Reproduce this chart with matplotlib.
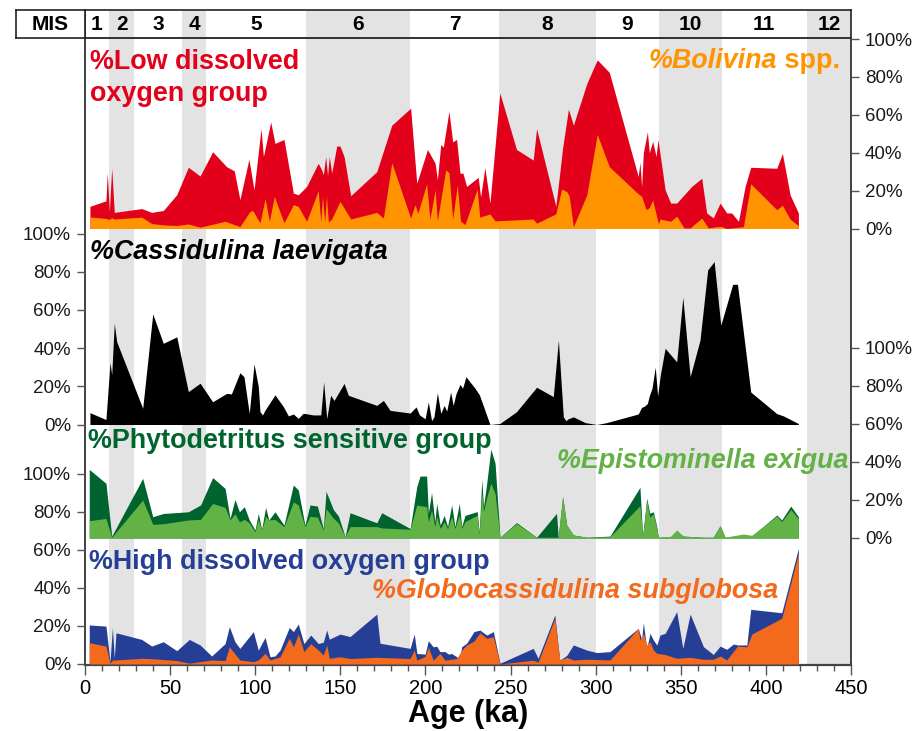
import matplotlib
matplotlib.use('Agg')
import matplotlib.pyplot as plt
from matplotlib import font_manager
from matplotlib.ticker import MultipleLocator, FuncFormatter

# ---------------- data ----------------
mis_bounds = [0, 14, 29, 57, 71, 130, 191, 243, 300, 337, 374, 424, 450]
mis_labels = ['1', '2', '3', '4', '5', '6', '7', '8', '9', '10', '11', '12']

age_low = [2.9, 12.3, 13.1, 14.3, 15.7, 17.2, 33.3, 39.2, 46, 53.9, 60.7, 67.6, 75, 83.2, 87.7, 91, 96.3, 99.3,
           103.4, 104.8, 109.1, 111.6, 116.9, 122.4, 125.3, 130.2, 137, 139, 140, 141.4, 142.5, 143.5, 144.9,
           147.9, 149.8, 152.2, 156.1, 171.4, 180.2, 191.3, 194.9, 201.2, 205.7, 207, 209, 210.5, 213.8, 216,
           218.3, 220.3, 222, 224.2, 231, 232.4, 234.9, 237.9, 243.7, 253.5, 263.3, 265.3, 276.6, 279, 280.5,
           284, 286.9, 294.8, 300.9, 308, 325, 326, 327, 328, 330.4, 331.5, 333.5, 335.5, 336.6, 340.8, 344.1,
           347.6, 356.4, 362.3, 365.2, 369.1, 373.1, 377, 379.9, 383.9, 387.8, 391.1, 406.4, 409.7, 414.2, 419.1]
low_do = [11.7, 14.6, 29.5, 9, 31.8, 8.5, 10.5, 8.5, 9.5, 17.8, 32.3, 27.7, 40.5, 32.6, 30.4, 15.2, 36.5, 20.4,
          52.7, 37.9, 56.2, 44.9, 47, 18.7, 17.8, 22.2, 34.4, 31, 28.3, 37.9, 28, 38, 29.2,
          43.5, 43.5, 37.9, 17.3, 30, 54.5, 63.5, 23.9, 41.7, 34.4, 25.7, 44.3, 43, 61.8, 45.7,
          47, 29.2, 29.2, 22.2, 27, 16.6, 32.1, 13.4, 71.5, 41.7, 36.1, 52.7, 11.7, 30, 42,
          63, 54.5, 76.5, 89, 82.4, 27.4, 35, 22, 40, 51, 40, 46, 38, 47, 20.4, 13.4,
          13.4, 22.2, 26.5, 8.2, 5.6, 13.4, 8.2, 8.2, 3.8, 22.2, 32.3, 31.8, 39.6, 17.8, 8.2]

age_boliv = [2.9, 12.3, 14.3, 15.7, 17.2, 33.3, 39.2, 46, 53.9, 60.7, 67.6, 82.3, 91, 96.9, 98.5, 102.8, 105.8,
             108.3, 111.2, 116.9, 122.4, 125.3, 130.2, 137, 138.5, 139.5, 140.8, 141.8, 143, 144.9, 149.8, 156.1,
             171.4, 175.3, 180.2, 191.3, 193.9, 195.5, 200.7, 202.6, 205.7, 207, 211.9, 213.8, 216, 218.7, 220.6,
             223.2, 230.4, 231.9, 237.9, 240.9, 263.3, 265.3, 276.6, 280, 283, 284.5, 286.9, 294.8, 300.9, 308,
             325, 327, 329.6, 331.5, 333.5, 336.9, 337.8, 344.1, 347.6, 351.9, 355.5, 362.3, 366.2, 371.2, 374,
             377, 386.8, 391.1, 406.4, 409.7, 414.2, 419.1]
bolivina = [6.1, 5.3, 4.8, 5.7, 5, 6, 2.6, 1.9, 1.6, 2.4, 0.7, 3.8, 1, 9, 9.5, 3, 15.9,
            3.8, 16.9, 3, 12.6, 11.7, 3.8, 20, 3.5, 17, 3.5, 17, 3.5, 5, 14.3, 5,
            8.5, 5.5, 34.7, 5.5, 12.6, 8, 23.6, 5, 20.4, 4, 30.9, 29.5, 5, 23, 4,
            2, 20.8, 6, 7.7, 4, 5, 2.8, 7.7, 20.8, 19.5, 17, 0.9, 17.8, 49.7, 32.6,
            18.3, 17, 10, 11, 15, 2.3, 5, 3.8, 6.5, 0.3, 0.3, 5.5, 0.3, 1, 1,
            0, 1, 23.6, 9.9, 12.2, 5, 1.5]

age_cass = [2.9, 12.3, 14.7, 15.7, 17.2, 18.6, 33.9, 39.8, 46, 53.9, 60.7, 67.6, 75, 83.2, 86, 91, 93.4, 96.5,
            99.3, 101.8, 102.8, 104.3, 105.8, 111.6, 116.5, 119.5, 122.4, 125.3, 128.2, 134.1, 138.5, 140.2, 142,
            144.3, 146.3, 152.2, 154.7, 171.4, 175.3, 179.2, 191, 194.5, 196.5, 199.8, 201.7, 203.6, 205, 207,
            209, 211, 212.5, 214.8, 216.3, 217.9, 220.3, 221.8, 223.8, 229.1, 231.7, 237.9, 243.7, 253.5, 265.3,
            275.1, 278.1, 281, 282.5, 283.9, 286.9, 293.8, 300.6, 306.5, 325, 327, 328.5, 330.4, 331.5, 333.1,
            335, 336.4, 338, 340.8, 347.6, 351.2, 355.5, 361.3, 365.8, 369.6, 373.5, 380.5, 383.3, 391.1, 406.4,
            410.3, 419.1]
cassidulina = [6.2, 2.6, 32.4, 26, 53, 43.4, 8.5, 57.9, 42.5, 45.9, 17.2, 21.6, 11.9, 16.3, 16, 27.1, 25, 5.8,
               31.7, 20, 6.7, 5, 7.6, 15.5, 9.4, 4.5, 5.5, 3.2, 5.9, 5, 5, 22.4, 3,
               15.3, 12.6, 21.5, 15.3, 10, 12.6, 7.4, 6, 9.2, 5, 3, 11.8, 2, 4, 16.6,
               5.8, 10, 7, 17, 10, 16, 21, 19, 25, 19, 15.5, 0, 0.5, 6.7, 19.5,
               14.6, 44.2, 4, 2, 3, 4, 1, 0, 1, 5.5, 9, 9.5, 11, 15, 19,
               30, 15, 26, 39.9, 32.8, 66.6, 25, 44.2, 80.9, 85.3, 52, 73.4, 73.4, 17, 5.7,
               4.5, 0.5]

age_phyto = [2.5, 12.3, 15.7, 33.9, 39.8, 46, 60.7, 67.9, 75, 82.3, 85.2, 88.1, 90.7, 93.6, 96.5, 99.9, 101.8,
             103.8, 106.1, 108, 111.6, 116.9, 122.4, 125.3, 129.2, 132.2, 136.5, 140, 141.6, 145.9, 148.9, 152.8,
             155.7, 171.4, 174.3, 191, 194.9, 196.8, 200.7, 201.7, 203.6, 205.5, 206.6, 208.7, 211, 213, 215.4,
             217.3, 219.9, 221.3, 223.2, 230.4, 231.6, 233.1, 234.1, 236, 238.4, 240.9, 243.8, 253.5, 265.3, 277,
             278, 280.6, 283, 286.9, 294.8, 308.4, 326, 326.8, 327.6, 330, 331.8, 333.9, 335.9, 336.8, 344, 347.6,
             351.5, 363.3, 369, 373.1, 376, 386.8, 391.7, 406.4, 409.3, 414.6, 419.1]
phyto = [36.1, 28.8, 1, 31.4, 11.2, 12.9, 13.8, 17.4, 31.8, 26.1, 10.3, 20.3, 13.8, 16.5, 9.5, 4.2, 12.9,
         4.6, 16.1, 9.5, 13.8, 6.8, 27.9, 25.3, 6.8, 17.4, 16.8, 5, 24.6, 15, 11.5, 0.7,
         13.3, 8, 13.3, 5, 27, 32.6, 32.6, 13, 23.9, 8.5, 18.2, 6.8, 11.9, 6, 17.5,
         6, 18.2, 6, 11.9, 13.9, 3, 30.9, 16.5, 28.8, 46.8, 39.3, 0.4, 8.1, 0.4, 13,
         0.4, 21.8, 6.8, 1.6, 0.4, 1, 26.7, 14, 1, 20.9, 13, 13.8, 6, 0.4, 0.7, 3,
         1, 0.4, 0.4, 6.5, 0.4, 1.6, 1, 12.1, 9.5, 16.8, 11.2]
epistominella = [9.1, 10.3, 0.4, 20, 7.2, 7.5, 9.5, 9.8, 18.2, 16.1, 9.5, 12.8, 8.5, 9.8, 7.9, 3.3, 9.8,
                 4.2, 11.4, 9.5, 9.8, 6, 19, 17.4, 6, 11.4, 11, 4.2, 15.5, 10.4, 7.9, 0.7,
                 6, 6, 5.3, 4.6, 17.4, 17, 16.5, 8.5, 14.7, 6, 11.4, 5, 8.6, 5, 11.4,
                 5, 12.3, 5, 8.6, 12, 2, 24, 14, 21.4, 28.8, 23.5, 0.4, 7.6, 0.4, 0.4,
                 0.4, 21.8, 6.8, 1.6, 0.4, 0.7, 17, 10, 1, 19.8, 11, 12.8, 5.3, 0.4, 0.9, 4.2,
                 1, 0.4, 0.4, 6.3, 0.4, 2.1, 1.4, 11.6, 8.6, 15, 10.2]

age_high = [2.5, 12.3, 14.7, 16.1, 17.2, 18.2, 33.3, 39.2, 46, 53.9, 61.3, 67.6, 74.4, 82.3, 84.8, 88.1, 91, 98.9,
            101.8, 105.8, 108.7, 111.6, 114.6, 120, 122.4, 125.3, 128.6, 132.6, 137.1, 140, 142, 143.5, 149.8,
            155.7, 171.4, 173.3, 191, 193.4, 195, 199.8, 201.7, 204.6, 206.6, 208.5, 211.5, 213.5, 215.4, 218.4,
            219.9, 221.3, 224.2, 228.5, 232, 236, 239.9, 243.8, 263.3, 266.2, 276, 278.9, 283, 286.9, 294.8,
            300.6, 308.4, 325, 327, 328, 330, 331.9, 333.9, 335.9, 337.8, 340.8, 347.6, 351.2, 355.5, 363.3,
            369.1, 373.1, 377, 380.9, 383.3, 388.8, 391.1, 409.3, 419.1]
high_do = [20.5, 19.9, 1.2, 19.2, 3, 16.4, 12.9, 9.4, 11.7, 7, 12.9, 10, 4.2, 10.7, 19.6, 11.7, 8.2, 17,
           7.3, 14, 3.8, 4.2, 7.3, 19.2, 17, 21, 10.7, 15.2, 10.7, 11.5, 17.8, 13, 15.7,
           14.4, 26.2, 10.9, 8.2, 15.7, 5.5, 5.2, 12.2, 9, 9.4, 6.5, 6.5, 5.2, 5.5, 3.8,
           2, 9.1, 10.9, 17, 17.8, 15.2, 17, 0.4, 8.2, 3, 25.7, 2, 4.5, 10, 7.3,
           6, 6.5, 18.7, 13, 21.7, 8, 16.1, 12.6, 10, 15.2, 16.1, 27.5, 8.2, 26.2, 9.1,
           5, 9.4, 7.7, 10.5, 10, 10, 28.7, 26.9, 60.7]

age_globo = [2.5, 12.3, 14.7, 16.1, 18.2, 33.3, 39.2, 53.9, 61.3, 74.4, 82.3, 84.8, 88.1, 91, 98.9, 101.8, 105.8,
             108.7, 114.6, 120, 122.4, 125.3, 128.6, 132.6, 137.1, 140, 142, 143.5, 149.8, 155.7, 171.4, 191,
             193.4, 195, 199.8, 201.7, 204.6, 208.5, 211.5, 218.4, 221.3, 224.2, 228.5, 232, 236, 239.9, 243.8,
             263.3, 266.2, 276, 278.9, 283, 286.9, 294.8, 308.4, 325, 326, 328, 330, 331.9, 333.9, 335.9, 340.8,
             347.6, 355.5, 363.3, 369.1, 373.1, 377, 383.3, 388.8, 391.7, 409.3, 419.1]
globocassidulina = [11.2, 9.4, 0.5, 2, 2.1, 3, 2.8, 1.8, 0.4, 2.1, 1.8, 9, 5.3, 2.1, 1.2, 2.1, 5.6,
                    2.1, 3.8, 13.5, 9, 15.7, 6.5, 10.7, 7.3, 4.7, 10, 3, 3.8, 2.9, 3.5, 2.9,
                    7.3, 2, 4, 8.7, 2, 5.6, 2, 2.9, 7.3, 10, 12, 16.4, 13.5, 14.3, 0,
                    2, 1, 24, 2, 3.5, 2.1, 2.5, 2.1, 18.7, 12.5, 16, 10, 11.7, 7.3, 5.6, 5,
                    3, 3.5, 2.5, 2.5, 4.2, 2.1, 9.4, 9, 15.7, 24, 58]

pct_ticks = [0, 20, 40, 60, 80, 100]
age_ticks = [0, 50, 100, 150, 200, 250, 300, 350, 400, 450]

# ---------------- styling ----------------
avail = {f.name for f in font_manager.fontManager.ttflist}
NARROW = 'Liberation Sans Narrow' if 'Liberation Sans Narrow' in avail else 'Liberation Sans'
SANS = 'Liberation Sans'
plt.rcParams['font.family'] = [SANS, 'DejaVu Sans']

C_RED = '#e2001a'
C_BOL = '#ff9400'
C_DKG = '#00642f'
C_LTG = '#63b245'
C_BLUE = '#263f96'
C_ORG = '#f36a1c'
C_GRAY = '#e3e3e3'
TICKC = '#555555'

W, H = 921, 731
fig = plt.figure(figsize=(W / 100, H / 100), dpi=100)


def axes_px(x0, y0, x1, y1, **kw):
    return fig.add_axes([x0 / W, 1 - y1 / H, (x1 - x0) / W, (y1 - y0) / H], **kw)


def fig_xy(px, py):
    return px / W, 1 - py / H


X0, X1 = 85, 851

# background frame with MIS bands
axbg = axes_px(X0, 10, X1, 665)
axbg.set_xlim(0, 450)
axbg.set_ylim(0, 1)
for i, lab in enumerate(mis_labels):
    lo, hi = mis_bounds[i], mis_bounds[i + 1]
    if (i + 1) % 2 == 0:
        axbg.axvspan(lo, hi, color=C_GRAY, lw=0, zorder=0)
    axbg.text((lo + hi) / 2, 1 - 14 / 655, lab, ha='center', va='center',
              fontsize=15, fontweight='bold', family=[NARROW, 'DejaVu Sans'])
axbg.axhline(1 - 28 / 655, color='#222222', lw=1.3)
axbg.set_yticks([])
axbg.set_xticks(age_ticks)
axbg.xaxis.set_minor_locator(MultipleLocator(10))
axbg.tick_params(axis='x', which='major', direction='out', length=7, width=1, color=TICKC,
                 labelsize=14.5, pad=3)
axbg.tick_params(axis='x', which='minor', direction='out', length=4, width=1, color=TICKC)
for lab in axbg.get_xticklabels():
    lab.set_family([NARROW, 'DejaVu Sans'])
for s in ['left', 'right', 'top']:
    axbg.spines[s].set_color('#222222')
    axbg.spines[s].set_linewidth(1.2)
axbg.spines['bottom'].set_color('#444444')
axbg.spines['bottom'].set_linewidth(1.6)
axbg.set_xlabel('Age (ka)', fontsize=22, fontweight='bold', family=[NARROW, 'DejaVu Sans'], labelpad=1)

# MIS label cell
axm = axes_px(16, 10, X0, 38)
axm.set_xticks([])
axm.set_yticks([])
for s in axm.spines.values():
    s.set_color('#222222')
    s.set_linewidth(1.2)
axm.text(0.5, 0.5, 'MIS', ha='center', va='center', fontsize=15, fontweight='bold',
         family=[NARROW, 'DejaVu Sans'], transform=axm.transAxes)

pct_fmt = FuncFormatter(lambda v, p: f'{int(v)}%')


def panel(y100, y0, side):
    ax = axes_px(X0, y100, X1, y0)
    ax.set_facecolor('none')
    ax.set_xlim(0, 450)
    ax.set_ylim(0, 100)
    ax.set_xticks([])
    for s in ax.spines.values():
        s.set_visible(False)
    ax.set_yticks(pct_ticks)
    ax.yaxis.set_major_formatter(pct_fmt)
    if side == 'right':
        ax.yaxis.tick_right()
    ax.tick_params(axis='y', direction='out', length=6, width=1, color=TICKC, labelsize=13.5,
                   labelcolor='#1a1a1a', pad=4)
    for lab in ax.get_yticklabels():
        lab.set_family([NARROW, 'DejaVu Sans'])
    return ax


ax1 = panel(39, 228.5, 'right')
ax1.fill_between(age_low, 0, low_do, color=C_RED, lw=0)
ax1.fill_between(age_boliv, 0, bolivina, color=C_BOL, lw=0)

ax2 = panel(233.5, 424.5, 'left')
ax2.fill_between(age_cass, 0, cassidulina, color='black', lw=0)

ax3 = panel(348, 538, 'right')
ax3.fill_between(age_phyto, 0, phyto, color=C_DKG, lw=0)
ax3.fill_between(age_phyto, 0, epistominella, color=C_LTG, lw=0)

ax4 = panel(473.5, 664, 'left')
ax4.fill_between(age_high, 0, high_do, color=C_BLUE, lw=0)
ax4.fill_between(age_globo, 0, globocassidulina, color=C_ORG, lw=0)

# panel titles
TFS = 19.4
fig.text(*fig_xy(90, 78), '%Low dissolved\noxygen group', color=C_RED, fontsize=TFS, fontweight='bold',
         ha='left', va='center', linespacing=1.27)
fig.text(*fig_xy(90, 252), '%Cassidulina laevigata', color='black', fontsize=TFS, fontweight='bold',
         style='italic', ha='left', va='center')
fig.text(*fig_xy(88, 441), '%Phytodetritus sensitive group', color=C_DKG, fontsize=TFS, fontweight='bold',
         ha='left', va='center')
fig.text(*fig_xy(848, 461), '%Epistominella exigua', color=C_LTG, fontsize=TFS, fontweight='bold',
         style='italic', ha='right', va='center')
fig.text(*fig_xy(89, 562), '%High dissolved oxygen group', color=C_BLUE, fontsize=TFS, fontweight='bold',
         ha='left', va='center')
fig.text(*fig_xy(778, 591), '%Globocassidulina subglobosa', color=C_ORG, fontsize=TFS, fontweight='bold',
         style='italic', ha='right', va='center')

t_spp = fig.text(*fig_xy(840, 68), ' spp.', color=C_BOL, fontsize=TFS, fontweight='bold',
                 ha='right', va='baseline')
fig.canvas.draw()
bb = t_spp.get_window_extent()
fig.text(bb.x0 / fig.bbox.width, 1 - 68 / H, '%Bolivina', color=C_BOL, fontsize=TFS, fontweight='bold',
         style='italic', ha='right', va='baseline')

fig.savefig('out.png', dpi=100)
